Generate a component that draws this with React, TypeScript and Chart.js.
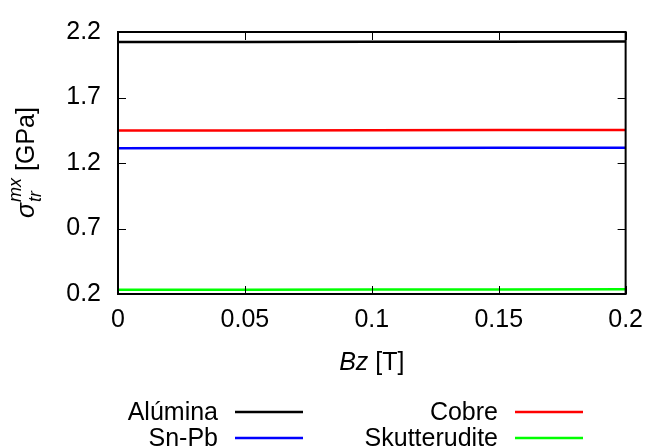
import React, { useEffect, useRef } from "react";
import { Chart, registerables } from "chart.js";
Chart.register(...registerables);

const bz = [0, 0.05, 0.1, 0.15, 0.2];
const alumina = [2.123, 2.124, 2.125, 2.126, 2.127];
const cobre = [1.448, 1.449, 1.45, 1.451, 1.452];
const snpb = [1.313, 1.314, 1.315, 1.316, 1.317];
const skutterudite = [0.232, 0.233, 0.234, 0.235, 0.236];
const seriesLabels = ["Alúmina", "Cobre", "Sn-Pb", "Skutterudite"];
const seriesColors = ["#000000", "#ff0000", "#0000ff", "#00ff00"];
const xTicks = [0, 0.05, 0.1, 0.15, 0.2];
const yTicks = [0.2, 0.7, 1.2, 1.7, 2.2];

const FONT = "'Liberation Sans', Arial, sans-serif";

const decor = {
  id: "decor",
  afterDatasetsDraw(chart: any) {
    const { ctx, chartArea: a, scales } = chart;
    ctx.save();
    ctx.strokeStyle = "#000";
    ctx.lineWidth = 1;
    const tl = 8;
    ctx.beginPath();
    scales.x.ticks.forEach((t: any) => {
      const px = Math.round(scales.x.getPixelForValue(t.value)) + 0.5;
      ctx.moveTo(px, a.bottom);
      ctx.lineTo(px, a.bottom - tl);
      ctx.moveTo(px, a.top);
      ctx.lineTo(px, a.top + tl);
    });
    scales.y.ticks.forEach((t: any) => {
      const py = Math.round(scales.y.getPixelForValue(t.value)) + 0.5;
      ctx.moveTo(a.left, py);
      ctx.lineTo(a.left + tl, py);
      ctx.moveTo(a.right, py);
      ctx.lineTo(a.right - tl, py);
    });
    ctx.stroke();
    ctx.lineWidth = 2;
    ctx.strokeRect(a.left, a.top, a.right - a.left, a.bottom - a.top);
    ctx.restore();
  },
  afterDraw(chart: any) {
    const { ctx, chartArea: a } = chart;
    ctx.save();
    ctx.fillStyle = "#000";
    ctx.textBaseline = "alphabetic";
    // X axis title
    const fMain = `25px ${FONT}`;
    const fIt = `italic 25px ${FONT}`;
    ctx.font = fIt;
    const w1 = ctx.measureText("Bz").width;
    ctx.font = fMain;
    const w2 = ctx.measureText(" [T]").width;
    const cx = (a.left + a.right) / 2;
    const x0 = cx - (w1 + w2) / 2;
    ctx.textAlign = "left";
    ctx.font = fIt;
    ctx.fillText("Bz", x0, 370);
    ctx.font = fMain;
    ctx.fillText(" [T]", x0 + w1, 370);

    // Y axis title (rotated)
    const fSmall = `italic 18px ${FONT}`;
    ctx.font = fIt;
    const ws = ctx.measureText("σ").width;
    ctx.font = fSmall;
    const wsub = Math.max(ctx.measureText("tr").width, ctx.measureText("mx").width);
    ctx.font = fMain;
    const wg = ctx.measureText(" [GPa]").width;
    const total = ws + wsub + wg;
    const cy = (a.top + a.bottom) / 2;
    ctx.translate(34, cy + total / 2);
    ctx.rotate(-Math.PI / 2);
    ctx.font = fIt;
    ctx.fillText("σ", 0, 0);
    ctx.font = fSmall;
    ctx.fillText("tr", ws + 1, 7);
    ctx.fillText("mx", ws + 1, -13);
    ctx.font = fMain;
    ctx.fillText(" [GPa]", ws + wsub + 1, 0);
    ctx.setTransform(1, 0, 0, 1, 0, 0);

    // Legend
    const textRight = [218, 498];
    const lineStart = [235, 515];
    const lineLen = 68;
    const rowY = [412, 438];
    ctx.font = `25px ${FONT}`;
    ctx.textAlign = "right";
    ctx.textBaseline = "middle";
    chart.data.datasets.forEach((ds: any, i: number) => {
      const col = i % 2;
      const row = Math.floor(i / 2);
      ctx.fillStyle = "#000";
      ctx.fillText(ds.label, textRight[col], rowY[row] + 1);
      ctx.strokeStyle = ds.borderColor;
      ctx.lineWidth = 2.5;
      ctx.beginPath();
      ctx.moveTo(lineStart[col], rowY[row]);
      ctx.lineTo(lineStart[col] + lineLen, rowY[row]);
      ctx.stroke();
    });
    ctx.restore();
  },
};

export default function App() {
  const ref = useRef<HTMLCanvasElement>(null);
  useEffect(() => {
    const allSeries = [alumina, cobre, snpb, skutterudite];
    const chart = new Chart(ref.current!, {
      type: "line",
      data: {
        datasets: allSeries.map((s, i) => ({
          label: seriesLabels[i],
          data: s.map((v, j) => ({ x: bz[j], y: v })),
          borderColor: seriesColors[i],
          backgroundColor: seriesColors[i],
          borderWidth: 2.5,
          pointRadius: 0,
          tension: 0,
        })),
      },
      options: {
        responsive: false,
        animation: false,
        layout: { padding: { top: 22, right: 27, left: 0, bottom: 0 } },
        plugins: { legend: { display: false }, tooltip: { enabled: false } },
        scales: {
          x: {
            type: "linear",
            min: 0,
            max: 0.2,
            grid: { display: false, drawTicks: false },
            border: { display: false },
            afterBuildTicks: (s: any) => {
              s.ticks = xTicks.map((v) => ({ value: v }));
            },
            afterFit: (s: any) => {
              s.height = 154;
            },
            ticks: {
              padding: 11,
              color: "#000",
              font: { family: FONT, size: 25 },
              maxRotation: 0,
              callback: (v: any) => String(Number(Number(v).toFixed(2))),
            },
          },
          y: {
            type: "linear",
            min: 0.2,
            max: 2.2,
            grid: { display: false, drawTicks: false },
            border: { display: false },
            afterBuildTicks: (s: any) => {
              s.ticks = yTicks.map((v) => ({ value: v }));
            },
            afterFit: (s: any) => {
              s.width = 118;
            },
            ticks: {
              padding: 17,
              color: "#000",
              font: { family: FONT, size: 25 },
              callback: (v: any) => Number(v).toFixed(1),
            },
          },
        },
      },
      plugins: [decor],
    });
    return () => chart.destroy();
  }, []);
  return (
    <div style={{ position: "absolute", left: 0, top: 0, width: 654, height: 448 }}>
      <canvas ref={ref} width={654} height={448} />
    </div>
  );
}
